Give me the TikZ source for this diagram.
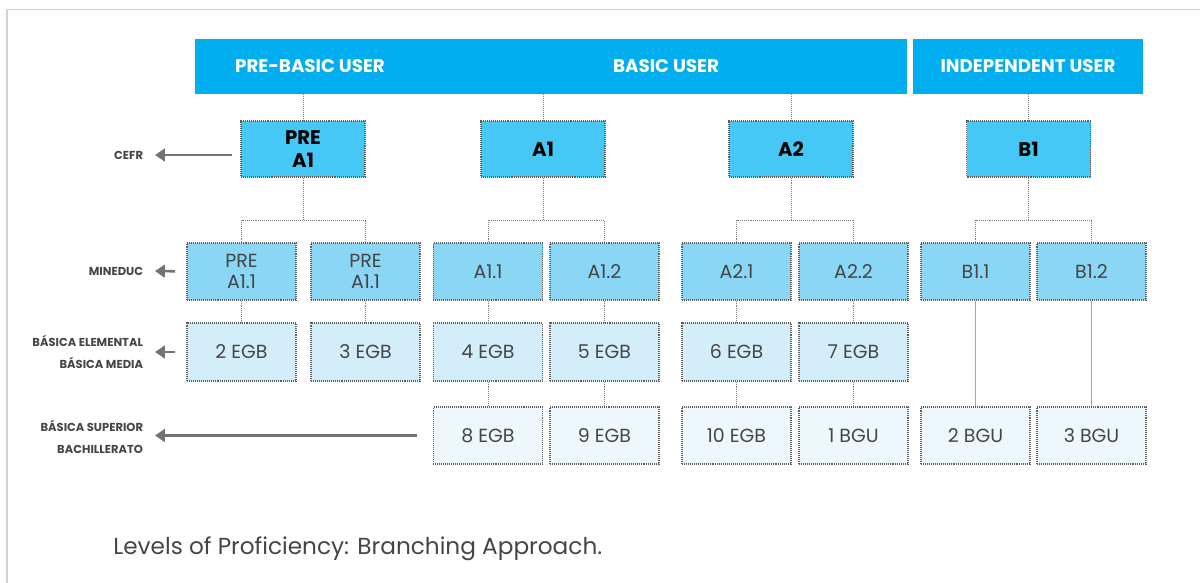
\documentclass[tikz,border=0pt]{standalone}
\usepackage{fontspec}
\setmainfont{Poppins}
\usetikzlibrary{arrows.meta,positioning}

\definecolor{userblue}{HTML}{00AEEF}
\definecolor{cefrblue}{HTML}{45C8F5}
\definecolor{minblue}{HTML}{8AD6F5}
\definecolor{egbblue}{HTML}{D3EEFA}
\definecolor{bgublue}{HTML}{EEF7FC}
\definecolor{dotgray}{HTML}{5E5E5E}
\definecolor{textgray}{HTML}{454545}
\definecolor{framegray}{HTML}{D2D2D2}

\tikzset{
  hdr/.style={fill=userblue, minimum height=1.375cm, inner sep=0pt, text=white, font=\fontsize{13}{15}\selectfont\bfseries},
  lvl/.style={draw=dotgray, line width=0.8pt, dash pattern=on 0.7pt off 0.7pt, inner sep=0pt, align=center},
  cefrbox/.style={lvl, fill=cefrblue, minimum width=3.1cm, minimum height=1.4cm, font=\fontsize{14}{16.5}\selectfont\bfseries},
  minbox/.style={lvl, fill=minblue, minimum width=2.725cm, minimum height=1.425cm, text=textgray, font=\fontsize{13.5}{15.5}\selectfont},
  egbbox/.style={lvl, fill=egbblue, minimum width=2.725cm, minimum height=1.45cm, text=textgray, font=\fontsize{13.5}{15.5}\selectfont},
  bgubox/.style={lvl, fill=bgublue, minimum width=2.725cm, minimum height=1.425cm, text=textgray, font=\fontsize{13.5}{15.5}\selectfont},
  link/.style={draw=dotgray!80, line width=0.7pt, dash pattern=on 0.7pt off 0.7pt},
  side/.style={anchor=east, align=right, inner sep=0pt, outer xsep=8.5pt, text=textgray, font=\fontsize{8.2}{16}\selectfont\bfseries},
  pointer/.style={draw=black!55, line width=1.8pt, -{Triangle[length=7pt,width=9pt]}}
}

\begin{document}
\begin{tikzpicture}[x=0.025cm, y=-0.025cm]
\useasboundingbox (0,0) rectangle (1200,583);
\draw[framegray, line width=1.4pt] (7,583) -- (7,9.5) -- (1200,9.5);

% user bands
\node[hdr, minimum width=5.75cm] (prebasic) at (310,66.5) {PRE-BASIC USER};
\node[hdr, minimum width=12.05cm] (basic) at (666,66.5) {BASIC USER};
\node[hdr, minimum width=5.75cm] (indep) at (1028,66.5) {INDEPENDENT USER};

% CEFR levels
\node[cefrbox] (prea1) at (303,149) {PRE\\A1};
\node[cefrbox] (a1) at (543,149) {A1};
\node[cefrbox] (a2) at (791,149) {A2};
\node[cefrbox] (b1) at (1028.5,149) {B1};

% MINEDUC sublevels
\node[minbox] (pa) at (241.5,271.5) {PRE\\A1.1};
\node[minbox] (pb) at (365.5,271.5) {PRE\\A1.1};
\node[minbox] (a11) at (488,271.5) {A1.1};
\node[minbox] (a12) at (604.5,271.5) {A1.2};
\node[minbox] (a21) at (736.5,271.5) {A2.1};
\node[minbox] (a22) at (853.5,271.5) {A2.2};
\node[minbox] (b11) at (975.5,271.5) {B1.1};
\node[minbox] (b12) at (1091.5,271.5) {B1.2};

% school years
\node[egbbox] (egb2) at (241.5,352) {2 EGB};
\node[egbbox] (egb3) at (365.5,352) {3 EGB};
\node[egbbox] (egb4) at (488,352) {4 EGB};
\node[egbbox] (egb5) at (604.5,352) {5 EGB};
\node[egbbox] (egb6) at (736.5,352) {6 EGB};
\node[egbbox] (egb7) at (853.5,352) {7 EGB};

\node[bgubox] (egb8) at (488,435.5) {8 EGB};
\node[bgubox] (egb9) at (604.5,435.5) {9 EGB};
\node[bgubox] (egb10) at (736.5,435.5) {10 EGB};
\node[bgubox] (bgu1) at (853.5,435.5) {1 BGU};
\node[bgubox] (bgu2) at (975.5,435.5) {2 BGU};
\node[bgubox] (bgu3) at (1091.5,435.5) {3 BGU};

% row labels
\node[side] (cefr) at (155,155) {CEFR};
\node[side] (mineduc) at (155,271) {MINEDUC};
\node[side] (basica) at (155,352) {BÁSICA ELEMENTAL\\BÁSICA MEDIA};
\node[side] (superior) at (155,437) {BÁSICA SUPERIOR\\BACHILLERATO};

\node[anchor=west, inner sep=0pt, text=textgray, font=\fontsize{16.5}{18}\selectfont] (caption) at (113,549) {Levels of Proficiency: Branching Approach.};

% band -> CEFR
\foreach \n/\u in {prea1/prebasic, a1/basic, a2/basic, b1/indep}
  \draw[link] (\n.north |- \u.south) -- (\n.north);

% CEFR -> MINEDUC brackets
\coordinate (brk) at (0,220);
\foreach \p/\l/\r in {prea1/pa/pb, a1/a11/a12, a2/a21/a22, b1/b11/b12} {
  \draw[link] (\p.south) -- (\p.south |- brk);
  \draw[link] (\l.north) |- (\r.north |- brk) -- (\r.north);
}

% straight drops
\foreach \a/\b in {pa/egb2, pb/egb3, a11/egb4, a12/egb5, a21/egb6, a22/egb7,
                   egb4/egb8, egb5/egb9, egb6/egb10, egb7/bgu1}
  \draw[link] (\a.south) -- (\b.north);
\draw[gray!70, line width=0.6pt] (b11.south) -- (bgu2.north);
\draw[gray!70, line width=0.6pt] (b12.south) -- (bgu3.north);

% pointers to the row labels
\draw[pointer, shorten <=6pt] (cefr.east -| prea1.west) -- (cefr.east);
\draw[pointer, shorten <=8pt] (pa.west) -- (mineduc.east);
\draw[pointer, shorten <=8pt] (egb2.west) -- (basica.east);
\draw[pointer, shorten <=11pt] (egb8.west) -- (superior.east |- egb8.west);
\end{tikzpicture}
\end{document}
